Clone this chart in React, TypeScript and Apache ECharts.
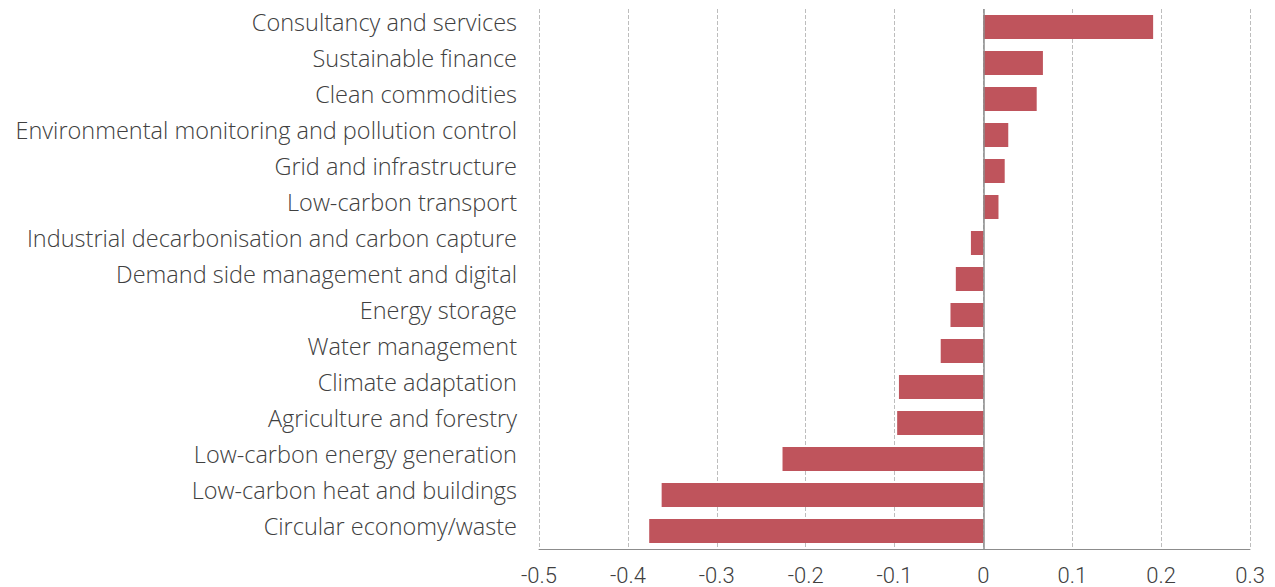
import React, { useEffect, useRef } from "react";
import * as echarts from "echarts";

const categories = [
  "Consultancy and services",
  "Sustainable finance",
  "Clean commodities",
  "Environmental monitoring and pollution control",
  "Grid and infrastructure",
  "Low-carbon transport",
  "Industrial decarbonisation and carbon capture",
  "Demand side management and digital",
  "Energy storage",
  "Water management",
  "Climate adaptation",
  "Agriculture and forestry",
  "Low-carbon energy generation",
  "Low-carbon heat and buildings",
  "Circular economy/waste",
];

const values = [
  0.191, 0.067, 0.06, 0.028, 0.024, 0.017, -0.014, -0.031, -0.037, -0.048,
  -0.095, -0.097, -0.226, -0.362, -0.376,
];

const xMin = -0.5;
const xMax = 0.3;
const xInterval = 0.1;

export default function App() {
  const ref = useRef<HTMLDivElement>(null);
  useEffect(() => {
    if (!ref.current) return;
    const chart = echarts.init(ref.current, undefined, { renderer: "svg" });
    chart.setOption({
      animation: false,
      backgroundColor: "#ffffff",
      grid: { left: 539, right: 25, top: 9, bottom: 38, containLabel: false },
      xAxis: {
        type: "value",
        min: xMin,
        max: xMax,
        interval: xInterval,
        axisLine: { show: true, onZero: false, lineStyle: { color: "#8c8c8c", width: 1 } },
        axisTick: { show: false },
        axisLabel: {
          color: "#404040",
          fontSize: 22,
          lineHeight: 14,
          fontFamily: "Roboto, sans-serif",
          fontWeight: 300,
          margin: 19,
          formatter: (v: number) => {
            const r = Math.round(v * 10) / 10;
            return r === 0 ? "0" : String(r);
          },
        },
        splitLine: { show: true, lineStyle: { color: "#bdbdbd", type: "dashed", width: 1 } },
      },
      yAxis: {
        type: "category",
        data: categories,
        inverse: true,
        axisLine: { show: false },
        axisTick: { show: false },
        axisLabel: {
          color: "#404040",
          fontSize: 23.5,
          lineHeight: 10,
          verticalAlign: "bottom",
          fontFamily: "Open Sans, sans-serif",
          fontWeight: 300,
          margin: 22,
        },
        splitLine: { show: false },
      },
      series: [
        {
          type: "bar",
          data: values,
          barWidth: 24,
          itemStyle: { color: "#BF545C" },
          markLine: {
            silent: true,
            symbol: "none",
            label: { show: false },
            lineStyle: { color: "#8c8c8c", type: "solid", width: 1.5 },
            data: [{ xAxis: 0 }],
          },
        },
      ],
    });
    return () => chart.dispose();
  }, []);
  return (
    <div
      ref={ref}
      style={{ position: "absolute", left: 0, top: 0, width: 1275, height: 587, overflow: "hidden" }}
    />
  );
}
